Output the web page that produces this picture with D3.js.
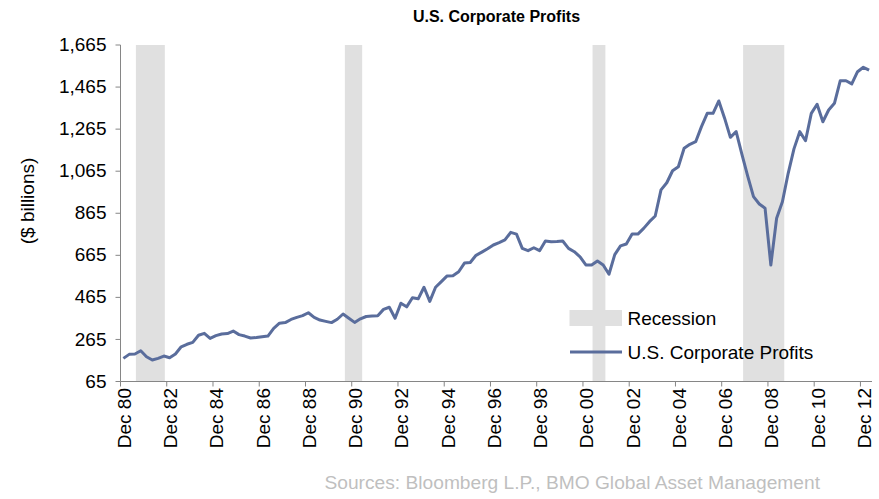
<!DOCTYPE html>
<html><head><meta charset="utf-8">
<script src="https://cdn.jsdelivr.net/npm/d3@7"></script>
<style>
body{margin:0;background:#fff;}
svg{display:block;font-family:"Liberation Sans",Arial,sans-serif;}
</style>
</head><body>
<svg id="chart" width="879" height="499"></svg>
<script>
const title = "U.S. Corporate Profits";
const seriesName = "U.S. Corporate Profits";
const recessionName = "Recession";
const yAxisLabel = "($ billions)";
const sourceText = "Sources: Bloomberg L.P., BMO Global Asset Management";

const quarters = [
"1980Q4",
"1981Q1","1981Q2","1981Q3","1981Q4","1982Q1","1982Q2","1982Q3","1982Q4",
"1983Q1","1983Q2","1983Q3","1983Q4","1984Q1","1984Q2","1984Q3","1984Q4",
"1985Q1","1985Q2","1985Q3","1985Q4","1986Q1","1986Q2","1986Q3","1986Q4",
"1987Q1","1987Q2","1987Q3","1987Q4","1988Q1","1988Q2","1988Q3","1988Q4",
"1989Q1","1989Q2","1989Q3","1989Q4","1990Q1","1990Q2","1990Q3","1990Q4",
"1991Q1","1991Q2","1991Q3","1991Q4","1992Q1","1992Q2","1992Q3","1992Q4",
"1993Q1","1993Q2","1993Q3","1993Q4","1994Q1","1994Q2","1994Q3","1994Q4",
"1995Q1","1995Q2","1995Q3","1995Q4","1996Q1","1996Q2","1996Q3","1996Q4",
"1997Q1","1997Q2","1997Q3","1997Q4","1998Q1","1998Q2","1998Q3","1998Q4",
"1999Q1","1999Q2","1999Q3","1999Q4","2000Q1","2000Q2","2000Q3","2000Q4",
"2001Q1","2001Q2","2001Q3","2001Q4","2002Q1","2002Q2","2002Q3","2002Q4",
"2003Q1","2003Q2","2003Q3","2003Q4","2004Q1","2004Q2","2004Q3","2004Q4",
"2005Q1","2005Q2","2005Q3","2005Q4","2006Q1","2006Q2","2006Q3","2006Q4",
"2007Q1","2007Q2","2007Q3","2007Q4","2008Q1","2008Q2","2008Q3","2008Q4",
"2009Q1","2009Q2","2009Q3","2009Q4","2010Q1","2010Q2","2010Q3","2010Q4",
"2011Q1","2011Q2","2011Q3","2011Q4","2012Q1","2012Q2","2012Q3","2012Q4",
"2013Q1"
];

const profits = [
175,
194,196,211,183, 167,175,186,178,
196,230,242,251, 285,294,270,283,
291,293,305,288, 281,272,274,278,
281,318,342,345, 360,370,378,392,
370,357,351,345, 361,386,366,346,
363,374,376,378, 408,418,366,437,
420,463,458,513, 446,513,540,567,
568,587,628,631, 665,680,696,714,
725,738,774,766, 698,687,701,687,
733,730,731,733, 698,682,658,619,
619,638,619,575, 668,710,719,766,
766,793,825,852, 976,1010,1067,1086,
1174,1193,1205,1277, 1340,1340,1399,1317,
1226,1253,1145,1041, 944,909,889,619,
841,920,1055,1171, 1253,1210,1340,1383,
1300,1356,1388,1495, 1495,1480,1538,1559,
1546
];

const recessionStarts = ["1981-06-01","1990-06-15","2001-03-01","2007-09-04"];
const recessionEnds   = ["1982-09-01","1991-03-15","2001-09-20","2009-06-15"];

const yTicks = [65,265,465,665,865,1065,1265,1465,1665];
const xTickQuarters = ["1980Q4","1982Q4","1984Q4","1986Q4","1988Q4","1990Q4","1992Q4","1994Q4","1996Q4","1998Q4","2000Q4","2002Q4","2004Q4","2006Q4","2008Q4","2010Q4","2012Q4"];
const xTickLabels = ["Dec 80","Dec 82","Dec 84","Dec 86","Dec 88","Dec 90","Dec 92","Dec 94","Dec 96","Dec 98","Dec 00","Dec 02","Dec 04","Dec 06","Dec 08","Dec 10","Dec 12"];

// layout
const plotLeft = 120.5, plotRight = 872, plotTop = 45, plotBottom = 381.5;
const lineColor = "#5a6d9c", bandColor = "#e0e0e0", axisColor = "#868686";

const svg = d3.select("#chart");

const x = d3.scaleBand().domain(quarters).range([plotLeft, plotRight]).paddingInner(0).paddingOuter(0);
const xTime = d3.scaleTime().domain([new Date(1980,9,1), new Date(2013,3,1)]).range([plotLeft, plotRight]);
const y = d3.scaleLinear().domain([65,1665]).range([plotBottom, plotTop]);
const parse = d3.timeParse("%Y-%m-%d");

// recession bands
svg.append("g").selectAll("rect")
  .data(recessionStarts.map((s,i)=>[parse(s), parse(recessionEnds[i])]))
  .join("rect")
  .attr("x", d=>xTime(d[0]))
  .attr("width", d=>xTime(d[1])-xTime(d[0]))
  .attr("y", plotTop)
  .attr("height", plotBottom-plotTop)
  .attr("fill", bandColor);

// y axis
const yAxis = svg.append("g")
  .attr("transform", `translate(${plotLeft},0)`)
  .call(d3.axisLeft(y).tickValues(yTicks).tickFormat(d3.format(",")).tickSize(5).tickSizeOuter(0).tickPadding(9).offset(0));
yAxis.select(".domain").attr("stroke", axisColor);
yAxis.selectAll(".tick line").attr("stroke", axisColor);
yAxis.selectAll(".tick text").attr("fill","#000").attr("font-size","19px").attr("font-family","Liberation Sans, Arial, sans-serif");

// x axis
const xAxis = svg.append("g")
  .attr("transform", `translate(0,${plotBottom})`)
  .call(d3.axisBottom(x).tickValues(xTickQuarters).tickFormat((d,i)=>xTickLabels[i]).tickSize(5).tickSizeOuter(0).offset(0));
xAxis.selectAll(".tick").attr("transform", d=>`translate(${x(d)},0)`);
xAxis.select(".domain").attr("stroke", axisColor);
xAxis.selectAll(".tick line").attr("stroke", axisColor);
xAxis.selectAll(".tick text")
  .attr("fill","#000").attr("font-size","19px").attr("font-family","Liberation Sans, Arial, sans-serif")
  .attr("transform","rotate(-90)")
  .attr("text-anchor","end")
  .attr("x",-6.5).attr("y",10.5).attr("dy",0);

// series line
const line = d3.line()
  .x((d,i)=>x(quarters[i]) + x.bandwidth()/2)
  .y(d=>y(d));
svg.append("path")
  .datum(profits)
  .attr("d", line)
  .attr("fill","none")
  .attr("stroke", lineColor)
  .attr("stroke-width", 3)
  .attr("stroke-linejoin","round");

// title
svg.append("text")
  .attr("x", 496.5).attr("y", 22)
  .attr("text-anchor","middle")
  .attr("font-size","16px").attr("font-weight","bold")
  .text(title);

// y axis label
svg.append("text")
  .attr("transform","translate(33.5,201) rotate(-90)")
  .attr("text-anchor","middle")
  .attr("font-size","19px")
  .text(yAxisLabel);

// legend
const lg = svg.append("g");
lg.append("rect").attr("x",569.5).attr("y",310).attr("width",52.5).attr("height",16).attr("fill",bandColor);
lg.append("text").attr("x",627.5).attr("y",325).attr("font-size","19px").text(recessionName);
lg.append("line").attr("x1",570).attr("x2",622).attr("y1",352).attr("y2",352)
  .attr("stroke",lineColor).attr("stroke-width",3);
lg.append("text").attr("x",627.5).attr("y",358.5).attr("font-size","19px").text(seriesName);

// source
svg.append("text")
  .attr("x", 820).attr("y", 489)
  .attr("text-anchor","end")
  .attr("font-size","19.2px")
  .attr("fill","#bfbfbf")
  .text(sourceText);
</script>
</body></html>
